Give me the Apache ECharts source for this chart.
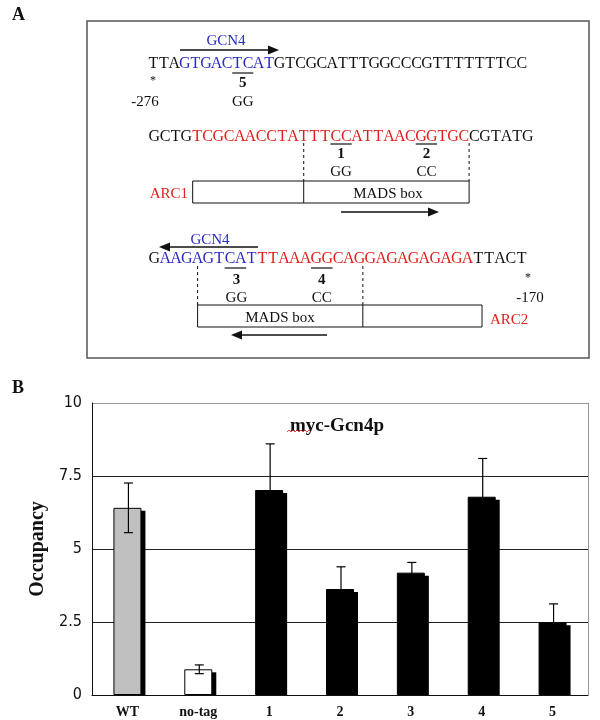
<!DOCTYPE html>
<html><head><meta charset="utf-8">
<script src="https://cdn.jsdelivr.net/npm/echarts@6/dist/echarts.min.js"></script>
<style>html,body{margin:0;padding:0;background:#fff}#c{width:600px;height:720px}</style>
</head><body><div id="c"></div>
<script>
// ---- Panel B data ----
const categories = ['WT', 'no-tag', '1', '2', '3', '4', '5'];
const occupancy = [6.41, 0.88, 7.02, 3.63, 4.19, 6.79, 2.49];
const errors = [0.85, 0.15, 1.58, 0.76, 0.35, 1.31, 0.63];
const yTicks = [0, 2.5, 5, 7.5, 10];
const chartTitle = 'myc-Gcn4p';
const yName = 'Occupancy';

// ---- Panel A content ----
const seq1 = 'TTAGTGACTCATGTCGCATTTGGCCCGTTTTTTTCC';
const seq2 = 'GCTGTCGCAACCTATTTCCATTAACGGTGCCGTATG';
const seq3 = 'GAAGAGTCATTTAAAGGCAGGAGAGAGAGATTACT';
const seq1Runs = [[0, 3, 'k'], [3, 12, 'b'], [12, 36, 'k']];
const seq2Runs = [[0, 4, 'k'], [4, 30, 'r'], [30, 36, 'k']];
const seq3Runs = [[0, 1, 'k'], [1, 10, 'b'], [10, 30, 'r'], [30, 35, 'k']];

const COL = { k: '#111', b: '#2a2ac8', r: '#e0201c' };
const SERIF = '"Liberation Serif","Times New Roman",serif';

const g = [];
function txt(x, y, s, opt) {
  opt = opt || {};
  g.push({
    type: 'text', x: x, y: y, silent: true,
    style: {
      text: s, fill: opt.fill || '#111',
      font: (opt.weight || 'normal') + ' ' + (opt.size || 15) + 'px ' + (opt.family || SERIF),
      textAlign: opt.align || 'center', textVerticalAlign: 'middle'
    }
  });
}
function line(x1, y1, x2, y2, opt) {
  opt = opt || {};
  g.push({
    type: 'line', silent: true,
    shape: { x1: x1, y1: y1, x2: x2, y2: y2 },
    style: { stroke: opt.stroke || '#111', lineWidth: opt.lw || 1, lineDash: opt.dash || null }
  });
}
function arrow(xFrom, xTo, y) {
  const dir = xTo > xFrom ? 1 : -1;
  const headL = 11, headW = 4.5;
  line(xFrom, y, xTo - dir * headL, y, { lw: 1.5 });
  g.push({
    type: 'polygon', silent: true,
    shape: { points: [[xTo, y], [xTo - dir * headL, y - headW], [xTo - dir * headL, y + headW]] },
    style: { fill: '#111' }
  });
}
function seqLine(seq, runs, x0, pitch, y) {
  runs.forEach(function (r) {
    for (let i = r[0]; i < r[1]; i++) {
      txt(x0 + (i + 0.5) * pitch, y, seq[i], { fill: COL[r[2]], size: 16 });
    }
  });
  return function (i) { return x0 + i * pitch; };
}

// Panel labels and frame
txt(12, 15, 'A', { weight: 'bold', size: 18, align: 'left' });
txt(12, 388, 'B', { weight: 'bold', size: 18, align: 'left' });
g.push({ type: 'rect', silent: true, shape: { x: 87, y: 21, width: 502, height: 337 },
  style: { fill: 'none', stroke: '#555', lineWidth: 1.5 } });

// Line 1
const p1 = seqLine(seq1, seq1Runs, 148, 10.53, 64);
txt(226, 41, 'GCN4', { fill: COL.b, size: 15 });
arrow(180, 279, 50);
line(p1(8), 73, p1(10), 73, { lw: 1.2 });
txt((p1(8) + p1(10)) / 2, 83, '5', { weight: 'bold', size: 15 });
txt((p1(8) + p1(10)) / 2, 102, 'GG', { size: 15 });
txt(153, 81, '*', { size: 12 });
txt(145, 102, '-276', { size: 15 });

// Line 2
const p2 = seqLine(seq2, seq2Runs, 149, 10.67, 137);
line(p2(17), 144, p2(19), 144, { lw: 1.2 });
txt((p2(17) + p2(19)) / 2, 154, '1', { weight: 'bold', size: 15 });
txt((p2(17) + p2(19)) / 2, 172, 'GG', { size: 15 });
line(p2(25), 144, p2(27), 144, { lw: 1.2 });
txt((p2(25) + p2(27)) / 2, 154, '2', { weight: 'bold', size: 15 });
txt((p2(25) + p2(27)) / 2, 172, 'CC', { size: 15 });
line(p2(14.5), 143, p2(14.5), 181, { dash: [3, 3] });
line(p2(30), 143, p2(30), 181, { dash: [3, 3] });
g.push({ type: 'rect', silent: true, shape: { x: p2(4) + 1, y: 181, width: p2(30) - p2(4) - 1, height: 22 },
  style: { fill: 'none', stroke: '#111', lineWidth: 1 } });
line(p2(14.5), 181, p2(14.5), 203);
txt(388, 194, 'MADS box', { size: 15 });
txt(188, 194, 'ARC1', { fill: COL.r, size: 15, align: 'right' });
arrow(341, 439, 212);

// Line 3
const p3 = seqLine(seq3, seq3Runs, 149, 10.8, 259);
txt(210, 240, 'GCN4', { fill: COL.b, size: 15 });
arrow(258, 159, 247);
line(p3(7), 268, p3(9), 268, { lw: 1.2 });
txt((p3(7) + p3(9)) / 2 + 1, 280, '3', { weight: 'bold', size: 15 });
txt((p3(7) + p3(9)) / 2 + 1, 298, 'GG', { size: 15 });
line(p3(15), 268, p3(17), 268, { lw: 1.2 });
txt((p3(15) + p3(17)) / 2, 280, '4', { weight: 'bold', size: 15 });
txt((p3(15) + p3(17)) / 2, 298, 'CC', { size: 15 });
line(p3(4.5), 266, p3(4.5), 305, { dash: [3, 3] });
line(p3(19.8), 266, p3(19.8), 305, { dash: [3, 3] });
g.push({ type: 'rect', silent: true, shape: { x: p3(4.5), y: 305, width: 482 - p3(4.5), height: 22 },
  style: { fill: 'none', stroke: '#111', lineWidth: 1 } });
line(p3(19.8), 305, p3(19.8), 327);
txt(280, 318, 'MADS box', { size: 15 });
txt(490, 320, 'ARC2', { fill: COL.r, size: 15, align: 'left' });
arrow(327, 231, 335);
txt(528, 278, '*', { size: 12 });
txt(530, 298, '-170', { size: 15 });

// Red spell-check squiggle under "myc"
(function () {
  const pts = [];
  for (let x = 287, k = 0; x <= 311; x += 2, k++) pts.push([x, k % 2 ? 430 : 432]);
  g.push({ type: 'polyline', silent: true, z: 10, shape: { points: pts }, style: { stroke: '#e02020', lineWidth: 0.8, fill: null } });
})();

const fills = ['#c0c0c0', '#ffffff', '#000000', '#000000', '#000000', '#000000', '#000000'];
const BAR_W = 28;

const chart = echarts.init(document.getElementById('c'), null, { renderer: 'canvas' });
chart.setOption({
  animation: false,
  backgroundColor: '#fff',
  title: {
    text: chartTitle, left: 332, top: 412, textAlign: 'center',
    textStyle: { fontFamily: SERIF, fontWeight: 'bold', fontSize: 19, color: '#111' }
  },
  grid: { left: 92, right: 12, top: 403, bottom: 25 },
  xAxis: {
    type: 'category', data: categories,
    axisLine: { lineStyle: { color: '#111', width: 1 } },
    axisTick: { show: false },
    axisLabel: { fontFamily: SERIF, fontWeight: 'bold', fontSize: 14, color: '#111', margin: 10 }
  },
  yAxis: [{
    type: 'value', min: 0, max: 10, interval: 2.5,
    name: yName, nameLocation: 'middle', nameGap: 44,
    nameTextStyle: { fontFamily: SERIF, fontWeight: 'bold', fontSize: 20, color: '#111' },
    axisLine: { show: true, lineStyle: { color: '#111', width: 1 } },
    axisTick: { show: false },
    axisLabel: {
      margin: 10, fontSize: 16, color: '#111',
      fontFamily: '"Liberation Sans Narrow","DejaVu Sans Condensed","Liberation Sans",sans-serif',
      formatter: function (v) { return yTicks.indexOf(v) >= 0 ? String(v) : ''; }
    },
    splitLine: { show: true, lineStyle: { color: ['#999', '#222', '#222', '#222', '#999'], width: 1 } }
  }, {
    type: 'value', min: 0, max: 10, position: 'right',
    axisLine: { show: true, lineStyle: { color: '#999', width: 1 } },
    axisTick: { show: false }, axisLabel: { show: false }, splitLine: { show: false }
  }],
  series: [{
    // drop shadows behind the bars
    type: 'custom', z: 1,
    data: occupancy.map(function (v, i) { return [i, v]; }),
    renderItem: function (params, api) {
      const top = api.coord([api.value(0), api.value(1)]);
      const base = api.coord([api.value(0), 0]);
      return {
        type: 'rect',
        shape: { x: top[0] - BAR_W / 2 + 4, y: top[1] + 3, width: BAR_W, height: Math.max(0, base[1] - top[1] - 3) },
        style: { fill: '#000' }
      };
    }
  }, {
    type: 'bar', barWidth: BAR_W, z: 2,
    data: occupancy.map(function (v, i) {
      return { value: v, itemStyle: { color: fills[i], borderColor: '#000', borderWidth: 1 } };
    })
  }, {
    type: 'custom', z: 5,
    data: occupancy.map(function (v, i) { return [i, v, errors[i]]; }),
    renderItem: function (params, api) {
      const i = api.value(0), v = api.value(1), e = api.value(2);
      const top = api.coord([i, v + e]);
      const bot = api.coord([i, v - e]);
      const x = top[0] + 1;
      const hw = 4.5;
      const st = { stroke: '#000', lineWidth: 1.2 };
      return {
        type: 'group', children: [
          { type: 'line', shape: { x1: x, y1: top[1], x2: x, y2: bot[1] }, style: st },
          { type: 'line', shape: { x1: x - hw, y1: top[1], x2: x + hw, y2: top[1] }, style: st },
          { type: 'line', shape: { x1: x - hw, y1: bot[1], x2: x + hw, y2: bot[1] }, style: st }
        ]
      };
    }
  }],
  graphic: g
});
</script></body></html>
